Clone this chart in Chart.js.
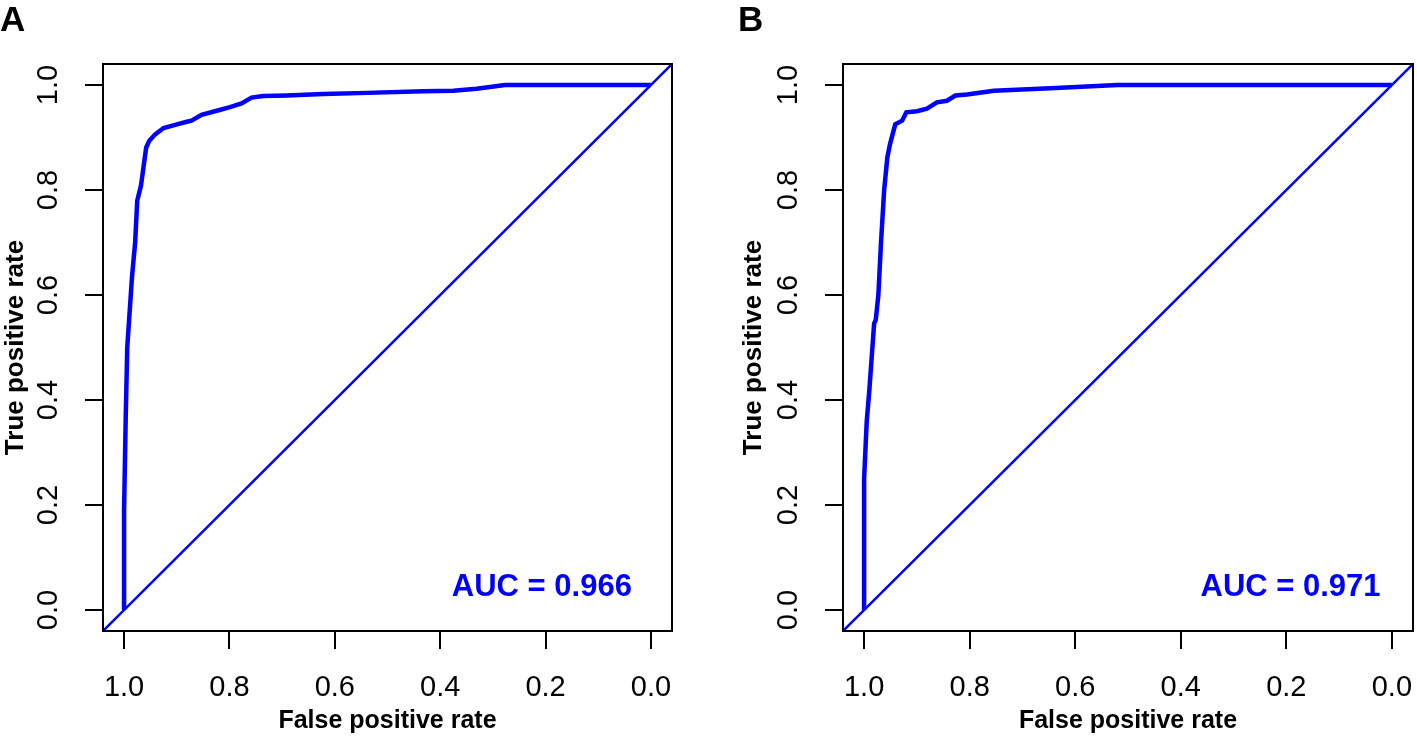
<!DOCTYPE html>
<html>
<head>
<meta charset="utf-8">
<script src="https://cdn.jsdelivr.net/npm/chart.js@4.4.1/dist/chart.umd.min.js"></script>
<style>
  body { margin: 0; background: #fff; }
  #wrap { position: relative; width: 1417px; height: 738px; background: #fff; }
  .panel { position: absolute; top: 0; }
</style>
</head>
<body>
<div id="wrap">
  <div class="panel" style="left:0px"><canvas id="rocA" width="676" height="738"></canvas></div>
  <div class="panel" style="left:738px"><canvas id="rocB" width="679" height="738"></canvas></div>
</div>
<script>
// ROC data (specificity on x, reversed; sensitivity on y)
const panelNames = ['A', 'B'];
const aucValues = [0.966, 0.971];
const tickVals = [0, 0.2, 0.4, 0.6, 0.8, 1.0];
const axisMin = -0.04, axisMax = 1.04;

const specA = [1.0, 1.0, 0.997, 0.994, 0.985, 0.979, 0.975, 0.968, 0.958, 0.952, 0.941, 0.925, 0.903, 0.881, 0.872, 0.853, 0.824, 0.799, 0.777, 0.758, 0.736, 0.691, 0.622, 0.539, 0.432, 0.375, 0.331, 0.277, 0.0];
const sensA = [0.0, 0.19, 0.36, 0.50, 0.634, 0.70, 0.78, 0.808, 0.881, 0.894, 0.906, 0.918, 0.924, 0.930, 0.932, 0.943, 0.951, 0.958, 0.965, 0.976, 0.979, 0.980, 0.983, 0.985, 0.988, 0.989, 0.993, 1.0, 1.0];

const specB = [1.0, 1.0, 1.0, 0.995, 0.990, 0.981, 0.978, 0.973, 0.968, 0.962, 0.956, 0.951, 0.941, 0.928, 0.920, 0.900, 0.881, 0.862, 0.843, 0.827, 0.805, 0.754, 0.647, 0.520, 0.0];
const sensB = [0.0, 0.18, 0.25, 0.36, 0.42, 0.546, 0.552, 0.60, 0.70, 0.80, 0.862, 0.887, 0.925, 0.932, 0.948, 0.950, 0.955, 0.967, 0.970, 0.980, 0.982, 0.989, 0.994, 1.0, 1.0];

const FONT = "'Liberation Sans', Arial, sans-serif";

function toPoints(xs, ys) {
  return xs.map((x, i) => ({x: x, y: ys[i]}));
}

// box round the plot region, like R's box()
const boxPlugin = {
  id: 'box',
  afterDraw(chart) {
    const a = chart.chartArea;
    const ctx = chart.ctx;
    ctx.save();
    ctx.strokeStyle = '#000';
    ctx.lineWidth = 2;
    ctx.strokeRect(a.left, a.top, a.right - a.left, a.bottom - a.top);
    ctx.restore();
  }
};

// AUC text inside the plot
const aucPlugin = {
  id: 'aucLabel',
  afterDatasetsDraw(chart, args, opts) {
    const ctx = chart.ctx;
    const px = chart.scales.x.getPixelForValue(opts.x);
    const py = chart.scales.y.getPixelForValue(opts.y);
    ctx.save();
    ctx.fillStyle = '#0000ff';
    ctx.font = 'bold 31px ' + FONT;
    ctx.textAlign = 'center';
    ctx.textBaseline = 'middle';
    ctx.fillText(opts.text, px, py);
    ctx.restore();
  }
};

function makeChart(id, name, spec, sens, auc, yWidth, aucX) {
  const config = {
    type: 'scatter',
    data: {
      datasets: [{
        data: toPoints(spec, sens),
        showLine: true,
        borderColor: '#0000ff',
        borderWidth: 4.5,
        pointRadius: 0,
        tension: 0
      }, {
        data: [{x: axisMax, y: axisMin}, {x: axisMin, y: axisMax}],
        showLine: true,
        borderColor: '#0000ff',
        borderWidth: 2.5,
        pointRadius: 0
      }]
    },
    options: {
      responsive: false,
      animation: false,
      layout: {padding: {left: 0, right: 4, top: 0, bottom: 0}},
      plugins: {
        legend: {display: false},
        tooltip: {enabled: false},
        title: {
          display: true,
          text: name,
          align: 'start',
          color: '#000',
          font: {family: FONT, size: 35, weight: 'bold'},
          padding: {top: 0, bottom: 22}
        },
        aucLabel: {text: 'AUC = ' + auc.toFixed(3), x: aucX, y: 0.042}
      },
      scales: {
        x: {
          type: 'linear',
          reverse: true,
          min: axisMin,
          max: axisMax,
          afterBuildTicks: axis => { axis.ticks = tickVals.map(v => ({value: v})); },
          afterFit: s => { s.height = 107; },
          grid: {display: true, drawOnChartArea: false, drawTicks: true, tickLength: 18, color: '#000', lineWidth: 2},
          border: {display: true, color: '#000', width: 2},
          ticks: {
            color: '#000',
            font: {family: FONT, size: 29},
            padding: 22,
            maxRotation: 0,
            callback: v => v.toFixed(1)
          },
          title: {
            display: true,
            text: 'False positive rate',
            color: '#000',
            font: {family: FONT, size: 25, weight: 'bold'},
            padding: {top: 0, bottom: 2}
          }
        },
        y: {
          type: 'linear',
          min: axisMin,
          max: axisMax,
          afterBuildTicks: axis => { axis.ticks = tickVals.map(v => ({value: v})); },
          afterFit: s => { s.width = yWidth; },
          grid: {display: true, drawOnChartArea: false, drawTicks: true, tickLength: 18, color: '#000', lineWidth: 2},
          border: {display: true, color: '#000', width: 2},
          ticks: {
            color: '#000',
            font: {family: FONT, size: 29},
            padding: 16,
            minRotation: 90,
            maxRotation: 90,
            crossAlign: 'center',
            callback: v => v.toFixed(1)
          },
          title: {
            display: true,
            text: 'True positive rate',
            color: '#000',
            font: {family: FONT, size: 26, weight: 'bold'},
            padding: {top: 0, bottom: 0}
          }
        }
      }
    },
    plugins: [boxPlugin, aucPlugin]
  };
  return new Chart(document.getElementById(id), config);
}

makeChart('rocA', panelNames[0], specA, sensA, aucValues[0], 103, 0.207);
makeChart('rocB', panelNames[1], specB, sensB, aucValues[1], 105, 0.192);
</script>
</body>
</html>
